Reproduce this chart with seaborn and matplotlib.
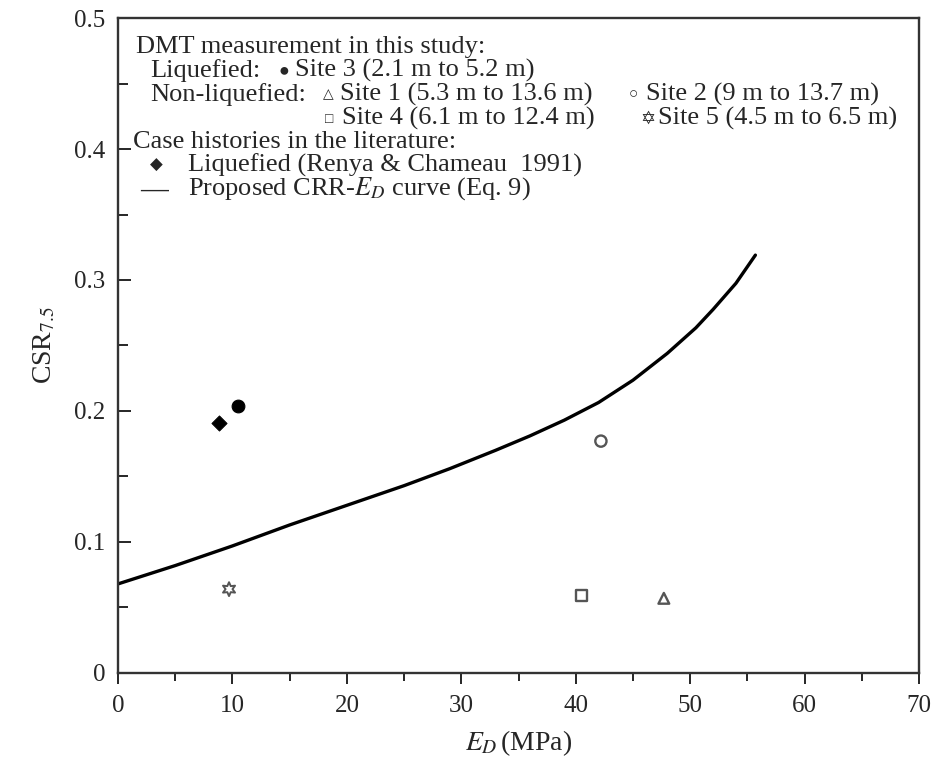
import numpy as np
import pandas as pd
import matplotlib
matplotlib.use("Agg")
import matplotlib.pyplot as plt
from matplotlib.ticker import MultipleLocator
import seaborn as sns

# curve
curve_ed = [0, 5, 10, 15, 20, 25, 29, 33, 36, 39, 42, 45, 48, 50.5, 52, 54, 55.7]
curve_crr = [0.068, 0.082, 0.097, 0.113, 0.128, 0.143, 0.156, 0.170, 0.181, 0.193,
             0.2065, 0.2235, 0.244, 0.2635, 0.2775, 0.2975, 0.319]

# measured points
site_names = ["Site 3", "Site 1", "Site 2", "Site 4", "Site 5", "Renya & Chameau"]
site_ed = [10.5, 47.7, 42.2, 40.5, 9.7, 8.8]
site_csr = [0.204, 0.057, 0.177, 0.059, 0.064, 0.191]

sns.set_theme(style="ticks")
plt.rcParams["font.family"] = ["Liberation Serif", "DejaVu Sans"]
plt.rcParams["mathtext.fontset"] = "stix"

fig = plt.figure(figsize=(9.42, 7.6), dpi=100)
ax = fig.add_axes([0.1253, 0.1145, 0.8503, 0.8618])

sns.lineplot(x=curve_ed, y=curve_crr, color="black", linewidth=2.4, ax=ax)

df = pd.DataFrame({"site": site_names, "ed": site_ed, "csr": site_csr})
styles = {
    "Site 3": dict(marker="o", s=85, color="black", edgecolor="black"),
    "Site 1": dict(marker="^", s=60, facecolor="none", edgecolor="#555555", linewidth=1.7),
    "Site 2": dict(marker="o", s=65, facecolor="none", edgecolor="#555555", linewidth=1.7),
    "Site 4": dict(marker="s", s=60, facecolor="none", edgecolor="#555555", linewidth=1.7),
    "Site 5": dict(marker=(6, 1, 0), s=100, facecolor="none", edgecolor="#555555", linewidth=1.4),
    "Renya & Chameau": dict(marker="D", s=60, color="black", edgecolor="black"),
}
for name, st in styles.items():
    sub = df[df.site == name]
    sns.scatterplot(data=sub, x="ed", y="csr", ax=ax, legend=False, zorder=3, **st)

ax.set_xlim(0, 70)
ax.set_ylim(0, 0.5)
ax.xaxis.set_major_locator(MultipleLocator(10))
ax.xaxis.set_minor_locator(MultipleLocator(5))
ax.yaxis.set_minor_locator(MultipleLocator(0.05))
ax.set_yticks([0, 0.1, 0.2, 0.3, 0.4, 0.5])
ax.set_yticklabels(["0", "0.1", "0.2", "0.3", "0.4", "0.5"])
ax.tick_params(axis="x", which="both", direction="out", labelsize=18, pad=8)
ax.tick_params(axis="x", which="major", length=8, width=1.4)
ax.tick_params(axis="x", which="minor", length=6, width=1.4)
ax.tick_params(axis="y", which="both", direction="in", labelsize=18, pad=9)
ax.tick_params(axis="y", which="major", length=9, width=1.4)
ax.tick_params(axis="y", which="minor", length=7, width=1.4)
for sp in ax.spines.values():
    sp.set_linewidth(1.7)
    sp.set_color("#333333")

ax.set_xlabel("$E_D\\,$(MPa)", fontsize=20, labelpad=8)
ax.set_ylabel("CSR$_{7.5}$", fontsize=20, labelpad=12)

# legend block written as text
fs = 19
def fx(px):
    return (px - 118) / 800
def fy(py):
    return 1 - (py - 18) / 655

fam = ["Liberation Serif", "DejaVu Sans"]
kw = dict(va="center", transform=ax.transAxes)
ax.text(fx(136), fy(47), "DMT measurement in this study:", fontsize=fs, **kw)
ax.text(fx(150), fy(70), "Liquefied:", fontsize=fs, **kw)
ax.text(fx(278), fy(71), "\u25CF", fontsize=13, family=fam, **kw)
ax.text(fx(295), fy(70), "Site 3 (2.1 m to 5.2 m)", fontsize=fs, **kw)
ax.text(fx(150), fy(94), "Non-liquefied:", fontsize=fs, **kw)
ax.text(fx(323), fy(95), "\u25B3", fontsize=10, family=fam, **kw)
ax.text(fx(340), fy(94), "Site 1 (5.3 m to 13.6 m)", fontsize=fs, **kw)
ax.text(fx(628), fy(95), "\u25CB", fontsize=11, family=fam, **kw)
ax.text(fx(645), fy(94), "Site 2 (9 m to 13.7 m)", fontsize=fs, **kw)
ax.text(fx(325), fy(119), "\u25A1", fontsize=10, family=fam, **kw)
ax.text(fx(342), fy(118), "Site 4 (6.1 m to 12.4 m)", fontsize=fs, **kw)
ax.text(fx(640), fy(119), "\u2721", fontsize=13, family=fam, **kw)
ax.text(fx(657), fy(118), "Site 5 (4.5 m to 6.5 m)", fontsize=fs, **kw)
ax.text(fx(133), fy(142), "Case histories in the literature:", fontsize=fs, **kw)
ax.text(fx(150), fy(166), "\u25C6", fontsize=12, family=fam, **kw)
ax.text(fx(188), fy(165), "Liquefied (Renya & Chameau  1991)", fontsize=fs, **kw)
ax.text(fx(140), fy(190), "\u2014", fontsize=20, family=fam, fontweight="bold", **kw)
ax.text(fx(188), fy(189), "Proposed CRR-$E_D$ curve (Eq. 9)", fontsize=fs, **kw)

fig.savefig("out.png", dpi=100)
